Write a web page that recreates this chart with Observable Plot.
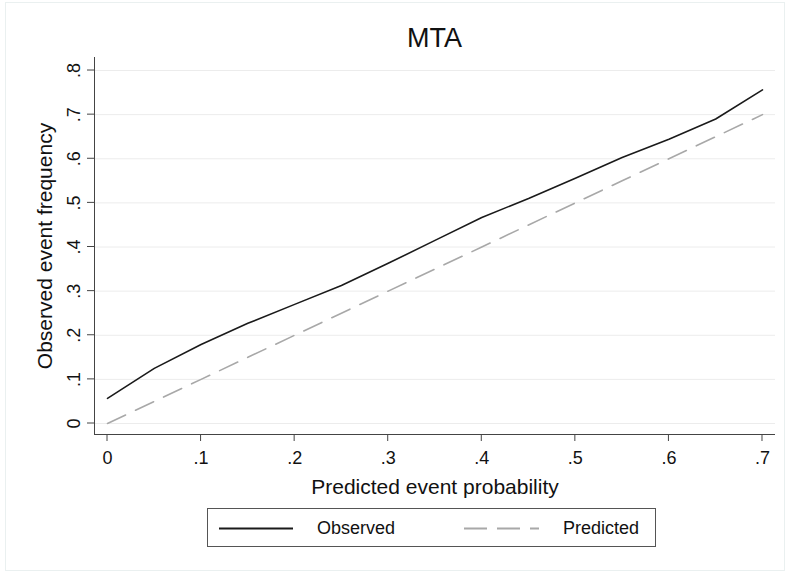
<!DOCTYPE html>
<html>
<head>
<meta charset="utf-8">
<script src="https://cdn.jsdelivr.net/npm/d3@7"></script>
<script src="https://cdn.jsdelivr.net/npm/@observablehq/plot@0.6"></script>
<style>
  html, body { margin: 0; padding: 0; background: #fff; }
  body { width: 786px; height: 574px; position: relative; overflow: hidden;
         font-family: "Liberation Sans", Helvetica, Arial, sans-serif; color: #111; }
  #border { position: absolute; left: 5px; top: 2px; width: 780px; height: 569px;
            border: 1px solid #eaf0f0; box-sizing: border-box; pointer-events: none; }
  #title { position: absolute; left: 94px; width: 681px; top: 22px; height: 32px;
           line-height: 32px; text-align: center; font-size: 27px; }
  #chart { position: absolute; left: 0; top: 57px; }
  #legend { position: absolute; left: 207px; top: 508px; width: 449px; height: 39px;
            border: 1px solid #555; box-sizing: border-box; }
  #legend svg { position: absolute; left: 0; top: 0; }
  #legend .lab { position: absolute; top: 0; line-height: 39px; font-size: 18px; }
</style>
</head>
<body>
<div id="border"></div>
<div id="title">MTA</div>
<div id="chart"></div>
<div id="legend"></div>
<script>
// ---- data ----
const predictedProb = [0, 0.05, 0.1, 0.15, 0.2, 0.25, 0.3, 0.35, 0.4, 0.45, 0.5, 0.55, 0.6, 0.65, 0.7];
const observedFreq  = [0.057, 0.125, 0.179, 0.227, 0.270, 0.313, 0.363, 0.415, 0.467, 0.510, 0.556, 0.603, 0.644, 0.690, 0.756];
const predictedFreq = [0, 0.05, 0.1, 0.15, 0.2, 0.25, 0.3, 0.35, 0.4, 0.45, 0.5, 0.55, 0.6, 0.65, 0.7];
const xTicks = [0, 0.1, 0.2, 0.3, 0.4, 0.5, 0.6, 0.7];
const yTicks = [0, 0.1, 0.2, 0.3, 0.4, 0.5, 0.6, 0.7, 0.8];
const seriesNames = ["Observed", "Predicted"];
const chartTitle = "MTA";
const xLabel = "Predicted event probability";
const yLabel = "Observed event frequency";

const observed = predictedProb.map((x, i) => ({x, y: observedFreq[i]}));
const predicted = predictedProb.map((x, i) => ({x, y: predictedFreq[i]}));

const fmt = d => d === 0 ? "0" : d3.format(".1f")(d).replace(/^0/, "");

const xDomain = [-0.0139, 0.7139];
const yDomain = [-0.0249, 0.8295];
const font = "'Liberation Sans', Helvetica, Arial, sans-serif";

document.getElementById("title").textContent = chartTitle;

const chart = Plot.plot({
  width: 786,
  height: 440,
  marginLeft: 94,
  marginRight: 11,
  marginTop: 0,
  marginBottom: 63,
  style: {fontFamily: font, background: "transparent", color: "#111", overflow: "visible"},
  x: {domain: xDomain, axis: null},
  y: {domain: yDomain, axis: null},
  marks: [
    Plot.ruleY(yTicks, {stroke: "#ececec", strokeWidth: 1}),
    Plot.line(predicted, {x: "x", y: "y", stroke: "#a8a8a8", strokeWidth: 1.6, strokeDasharray: "20,11"}),
    Plot.line(observed, {x: "x", y: "y", stroke: "#1a1a1a", strokeWidth: 1.6}),
    Plot.ruleX([xDomain[0]], {stroke: "#444", strokeWidth: 1}),
    Plot.ruleY([yDomain[0]], {stroke: "#444", strokeWidth: 1}),
    Plot.text(yTicks, {x: () => xDomain[0], y: d => d, text: fmt, rotate: -90, dx: -20, fontSize: 18, fill: "#111"}),
    Plot.text(xTicks, {x: d => d, y: () => yDomain[0], text: fmt, dy: 24, fontSize: 18, fill: "#111"}),
    Plot.text([xLabel], {frameAnchor: "bottom", text: d => d, dy: 53, fontSize: 21, fill: "#111",
                          textAnchor: "middle", lineAnchor: "middle"}),
    Plot.text([yLabel], {frameAnchor: "left", text: d => d, rotate: -90, dx: -49, fontSize: 21, fill: "#111",
                          textAnchor: "middle", lineAnchor: "middle"})
  ]
});
document.getElementById("chart").appendChild(chart);

// tick marks outside the axes, positioned through the chart's scales
(function addTicks() {
  const sx = chart.scale("x"), sy = chart.scale("y");
  const y0 = sy.apply(yDomain[0]);
  const x0 = sx.apply(xDomain[0]);
  const g = d3.select(chart).append("g").attr("stroke", "#444");
  xTicks.forEach(t => {
    const xp = sx.apply(t);
    g.append("line").attr("x1", xp).attr("x2", xp).attr("y1", y0).attr("y2", y0 + 7);
  });
  yTicks.forEach(t => {
    const yp = sy.apply(t);
    g.append("line").attr("x1", x0 - 7).attr("x2", x0).attr("y1", yp).attr("y2", yp);
  });
})();

// legend
const legend = document.getElementById("legend");
const ns = "http://www.w3.org/2000/svg";
const lsvg = document.createElementNS(ns, "svg");
lsvg.setAttribute("width", 449); lsvg.setAttribute("height", 39);
const styles = [
  {x1: 11, x2: 85, stroke: "#1a1a1a", dash: null},
  {x1: 256, x2: 331, stroke: "#a8a8a8", dash: "23,10"}
];
const textLeft = [109, 355];
seriesNames.forEach((name, i) => {
  const s = styles[i];
  const ln = document.createElementNS(ns, "line");
  ln.setAttribute("x1", s.x1); ln.setAttribute("x2", s.x2);
  ln.setAttribute("y1", 19.5); ln.setAttribute("y2", 19.5);
  ln.setAttribute("stroke", s.stroke); ln.setAttribute("stroke-width", 1.8);
  if (s.dash) ln.setAttribute("stroke-dasharray", s.dash);
  lsvg.appendChild(ln);
  const lab = document.createElement("div");
  lab.className = "lab"; lab.style.left = textLeft[i] + "px"; lab.textContent = name;
  legend.appendChild(lab);
});
legend.appendChild(lsvg);
</script>
</body>
</html>
